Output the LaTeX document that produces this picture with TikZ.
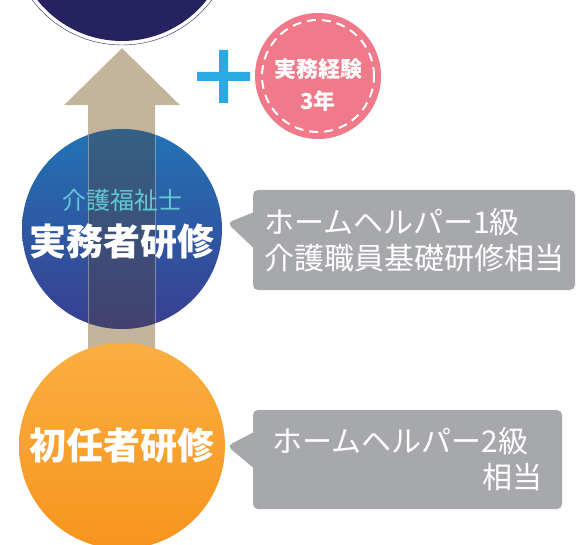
\documentclass[tikz,border=0pt]{standalone}
\usepackage{fontspec}
\setmainfont{Noto Sans CJK JP}
\usetikzlibrary{shapes.callouts}
\definecolor{navy}{RGB}{38,34,96}
\definecolor{shafttan}{RGB}{196,180,155}
\definecolor{bluetop}{RGB}{34,115,181}
\definecolor{bluebot}{RGB}{58,62,145}
\definecolor{orangetop}{RGB}{250,175,64}
\definecolor{orangebot}{RGB}{247,148,30}
\definecolor{pinkfill}{RGB}{240,122,138}
\definecolor{plusblue}{RGB}{41,171,226}
\definecolor{notegray}{RGB}{167,168,172}
\definecolor{subteal}{RGB}{98,200,210}
\definecolor{shadow}{RGB}{80,70,60}
\begin{document}
\begin{tikzpicture}[x=1pt,y=-1pt,
  stage/.style={circle,inner sep=0pt,minimum size=#1},
  note/.style={rectangle callout,fill=notegray,rounded corners=5pt,text=white,
    align=left,inner sep=0pt,callout pointer width=35pt,
    font=\fontsize{30}{36}\selectfont},
  big/.style={text=white,font=\fontsize{37}{40}\selectfont\bfseries}]
\useasboundingbox (0,0) rectangle (578,545);
% goal circle at the top
\node[stage=224pt,draw=navy,fill=white] (shiken) at (122,-67) {};
\fill[navy] (shiken.center) circle (108pt);
% arrow behind the two stages
\coordinate (tip) at ([yshift=-3pt]shiken.south);
\fill[shafttan] (tip) -- ++(58,57) -- ++(-25,0) -- ++(0,300) -- ++(-67,0)
  -- ++(0,-300) -- ++(-24,0) -- cycle;
\node[stage=200pt,top color=bluetop,bottom color=bluebot] (jitsumu) at (122,229) {};
\begin{scope}
\clip (jitsumu.center) circle (100pt);
\fill[shadow,opacity=.4] (88,120) rectangle (155,340);
\draw[white,opacity=.35,line width=.6pt] (88,120) -- (88,340) (155,120) -- (155,340);
\end{scope}
\node[text=subteal,font=\fontsize{24}{28}\selectfont] (jsub) at ([yshift=29pt]jitsumu.center) {介護福祉士};
\node[big] (jtitle) at ([yshift=-13pt]jitsumu.center) {実務者研修};
\node[stage=206pt,top color=orangetop,bottom color=orangebot,big] (shonin) at (122,446) {初任者研修};
% plus and experience
\fill[plusblue] (197,72) rectangle (250,81) (219,50) rectangle (228,103);
\node[stage=126pt,fill=pinkfill] (keiken) at (318,76) {};
\draw[white,line width=2pt,dash pattern=on 9pt off 6pt] (keiken.center) circle (56pt);
\node[text=white,font=\fontsize{22}{24}\selectfont\bfseries] (kline1) at (318,69) {実務経験};
\node[text=white,font=\fontsize{22}{24}\selectfont\bfseries] (kline2) at (318,101) {3年};
% notes
\node[note,minimum width=322pt,minimum height=100pt,
  callout absolute pointer={([xshift=5pt,yshift=6pt]jitsumu.east)}] (note1) at (414,240)
  {ホームヘルパー1級\\介護職員基礎研修相当};
\node[note,minimum width=309pt,minimum height=99pt,
  callout absolute pointer={([xshift=2pt]shonin.east)}] (note2) at (407.5,459.5)
  {ホームヘルパー2級\\\hspace*{7em}相当};
\end{tikzpicture}
\end{document}
